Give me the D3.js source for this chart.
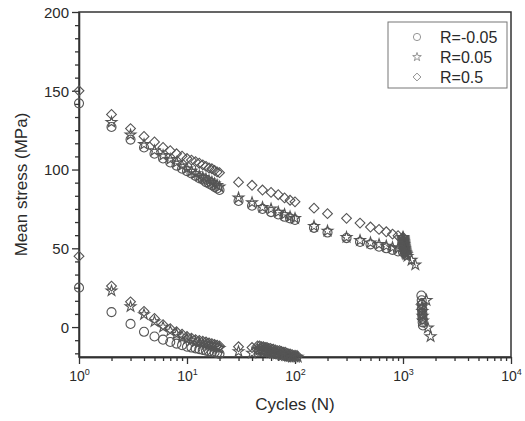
<!DOCTYPE html>
<html>
<head>
<meta charset="utf-8">
<style>
body { margin: 0; background: #fff; }
text { font-family: "Liberation Sans", Arial, sans-serif; fill: #2a2a2a; }
.sym { fill: none; stroke: #555; stroke-width: 1.1; }
.axis path, .axis line { stroke: #333; stroke-width: 1.3; }
</style>
</head>
<body>
<script src="https://cdn.jsdelivr.net/npm/d3@7/dist/d3.min.js"></script>
<script>
// values (cycles N, mean stress MPa)
var cyclesDense = [1,2,3,4,5,6,7,8,9,10,11,12,13,14,15,16,17,18,19,20];
var diamondUpperDense = [150,135,126,121,117.5,114,112,110,108.5,107,106,105,104,103,102,101,100.5,99.5,98.5,98];
var starUpperDense = [null,130,122,116,112,109,106.5,104.5,102.5,100.5,99,97.5,96,95,94,93,92,91,90,89];
var circleUpperDense = [142,127,119,114,110,107,104.5,102.5,100.5,99,97.5,96,94.5,93.5,92,91,90,89,88,87];
var diamondLowerDense = [45,26,16,10,5.5,1.5,-1,-3,-4.5,-6,-7,-8,-8.5,-9,-9.5,-10,-10.5,-11,-11.5,-12];
var starLowerDense = [null,23,13,8,3.5,0,-2.5,-4.5,-6,-7.5,-8.5,-9.5,-10,-10.5,-11,-11.5,-12,-12.5,-13,-13.5];
var circleLowerDense = [25,9.5,2,-3,-6,-8,-9.5,-10.5,-11.5,-12.5,-13,-13.5,-14,-14.5,-15,-15.5,-16,-16,-16.5,-17];

var cyclesSparse = [30,40,50,60,70,80,90,100,150,200,300,400,500,600,700,800,900,1000];
var diamondUpperSparse = [92,90,87,85.5,84,82,80.5,79.5,75.5,72,69,66,63.5,62,60.5,59,58,57];
var starUpperSparse = [82,79,76,75,73,71.5,70,69,64,61,57,55,53.5,52.5,51.5,50.5,50,49];
var circleUpperSparse = [80,77,75,73,71.5,70,69,68,63,60,56.5,54,52.5,51,50,49,48,47.5];

var starTailCycles = [1000,1003,1005,1008,1010,1013,1015,1018,1020,1023,1025,1028,1030,1033,1035,1038,1040,1045,1050,1055,1060,1070,1080,1100,1200,1300];
var starTail = [57,56.5,56,55.5,55,54.5,54,53.5,53,52.5,52,51.5,51,50.5,50,49.5,49,48.5,48,47.5,47,46.5,46,45,42.5,39.5];

var cyclesLowSparse = [30,40];
var diamondLowSparse = [-12.5,-13];
var starLowSparse = [-15.5,-16.5];

var clusterCycles = [45,47,49,51,53,55,57,59,61,63,66,69,72,75,78,81,84,87,90,94,98,102,106];
var diamondCluster = [-12,-12,-12.5,-12.5,-13,-13,-13.5,-13.5,-14,-14,-14.5,-15,-15,-15.5,-16,-16,-16.5,-17,-17,-17.5,-18,-18,-18.5];
var starCluster = [-14,-14.5,-14.5,-15,-15,-15.5,-15.5,-16,-16,-16.5,-16.5,-17,-17,-17.5,-17.5,-18,-18,-18.5,-18.5,-19,-19,-19,-19];
var circleClusterCycles = [46,50,55,60,65,70,76,82,88];
var circleCluster = [-15,-15.5,-16,-16.5,-17,-17.5,-18,-18.5,-19];

var circleEndCycles = [1480,1490,1500,1500,1510,1510,1520,1520,1530];
var circleEnd = [20,17,14,11,9,7,5,3,1];
var starEndCycles = [1500,1510,1520,1530,1650,1700,1800];
var starEnd = [13,10,7,4,17,-0.5,-6];
var diamondEndCycles = [1490,1500,1510,1520];
var diamondEnd = [15,12,8,5];

var seriesNames = ["R=-0.05", "R=0.05", "R=0.5"];
var yMajor = [0, 50, 100, 150, 200];
var xMajor = [1, 10, 100, 1000, 10000];

function pairs(xs, ys) {
  return xs.map(function(n, i) { return {n: n, v: ys[i]}; }).filter(function(d) { return d.v != null; });
}

var series = [
  {name: seriesNames[2], shape: "diamond", points: [].concat(
    pairs(cyclesDense, diamondUpperDense), pairs(cyclesDense, diamondLowerDense),
    pairs(cyclesSparse, diamondUpperSparse), pairs(cyclesLowSparse, diamondLowSparse),
    pairs(clusterCycles, diamondCluster), pairs(diamondEndCycles, diamondEnd))},
  {name: seriesNames[1], shape: "star", points: [].concat(
    pairs(cyclesDense, starUpperDense), pairs(cyclesDense, starLowerDense),
    pairs(cyclesSparse, starUpperSparse), pairs(starTailCycles, starTail),
    pairs(cyclesLowSparse, starLowSparse), pairs(clusterCycles, starCluster),
    pairs(starEndCycles, starEnd))},
  {name: seriesNames[0], shape: "circle", points: [].concat(
    pairs(cyclesDense, circleUpperDense), pairs(cyclesDense, circleLowerDense),
    pairs(cyclesSparse, circleUpperSparse), pairs(circleClusterCycles, circleCluster),
    pairs(circleEndCycles, circleEnd))}
];

var width = 525, height = 421;
var margin = {top: 12, right: 14, bottom: 64, left: 79};

var svg = d3.select("body").append("svg")
    .attr("width", width)
    .attr("height", height);

var x = d3.scaleLog().domain([1, 10000]).range([margin.left, width - margin.right]);
var y = d3.scaleLinear().domain([-19, 200]).range([height - margin.bottom, margin.top]);

var symbols = {
  circle: d3.symbol().type(d3.symbolCircle).size(64)(),
  star: d3.symbol().type(d3.symbolStar).size(36)(),
  diamond: d3.symbol().type(d3.symbolSquare).size(48)()
};
var rot = {circle: 0, star: 0, diamond: 45};

// minor ticks
var yMinor = [];
yMajor.forEach(function(m) { for (var k = 1; k < 6; k++) { var v = m - k * 50 / 6; if (v > -19) yMinor.push(v); } });
var xMinor = [];
[1, 10, 100, 1000].forEach(function(d) { for (var k = 2; k < 10; k++) xMinor.push(d * k); });

svg.append("g").attr("class", "axis")
    .attr("transform", "translate(0," + (height - margin.bottom) + ")")
    .call(d3.axisBottom(x).tickValues(xMinor).tickSize(4).tickFormat("").tickSizeOuter(0));
var gx = svg.append("g").attr("class", "axis")
    .attr("transform", "translate(0," + (height - margin.bottom) + ")")
    .call(d3.axisBottom(x).tickValues(xMajor).tickSize(7).tickFormat("").tickSizeOuter(0));
gx.selectAll(".tick").append("text")
    .attr("y", 24)
    .attr("text-anchor", "middle")
    .style("font-size", "14px")
    .each(function(d) {
      var t = d3.select(this);
      t.append("tspan").text("10");
      t.append("tspan").attr("dy", -6).style("font-size", "9px").text(Math.round(Math.log10(d)));
    });

svg.append("g").attr("class", "axis")
    .attr("transform", "translate(" + margin.left + ",0)")
    .call(d3.axisLeft(y).tickValues(yMinor).tickSize(4).tickFormat("").tickSizeOuter(0));
var gy = svg.append("g").attr("class", "axis")
    .attr("transform", "translate(" + margin.left + ",0)")
    .call(d3.axisLeft(y).tickValues(yMajor).tickSize(7).tickSizeOuter(0));
gy.selectAll(".tick text").style("font-size", "15px").attr("x", -10).attr("dy", "0.35em");

// frame
svg.append("rect")
    .attr("x", margin.left).attr("y", margin.top)
    .attr("width", width - margin.left - margin.right)
    .attr("height", height - margin.top - margin.bottom)
    .attr("fill", "none").attr("stroke", "#333").attr("stroke-width", 1.5);

// points
series.forEach(function(s) {
  svg.append("g").selectAll("path")
      .data(s.points)
      .enter().append("path")
      .attr("class", "sym")
      .attr("d", symbols[s.shape])
      .attr("transform", function(d) { return "translate(" + x(d.n) + "," + y(d.v) + ") rotate(" + rot[s.shape] + ")"; });
});

// legend
var legend = svg.append("g").attr("transform", "translate(388,22)");
legend.append("rect").attr("width", 119).attr("height", 66)
    .attr("fill", "#fff").attr("stroke", "#777").attr("stroke-width", 1);
var legendRows = [series[2], series[1], series[0]];
legendRows.forEach(function(s, i) {
  legend.append("path").attr("class", "sym")
      .attr("d", symbols[s.shape])
      .attr("stroke", "#888")
      .style("stroke", "#888")
      .attr("transform", "translate(29," + (15 + i * 20) + ") rotate(" + rot[s.shape] + ") scale(0.8)");
  legend.append("text").attr("x", 52).attr("y", 15 + i * 20).attr("dy", "0.35em")
      .style("font-size", "16px").text(s.name);
});

// axis titles
svg.append("text")
    .attr("x", (margin.left + width - margin.right) / 2).attr("y", 410)
    .attr("text-anchor", "middle").style("font-size", "17px")
    .text("Cycles (N)");
svg.append("text")
    .attr("transform", "translate(27," + ((margin.top + height - margin.bottom) / 2) + ") rotate(-90)")
    .attr("text-anchor", "middle").style("font-size", "17px")
    .text("Mean stress (MPa)");
</script>
</body>
</html>
